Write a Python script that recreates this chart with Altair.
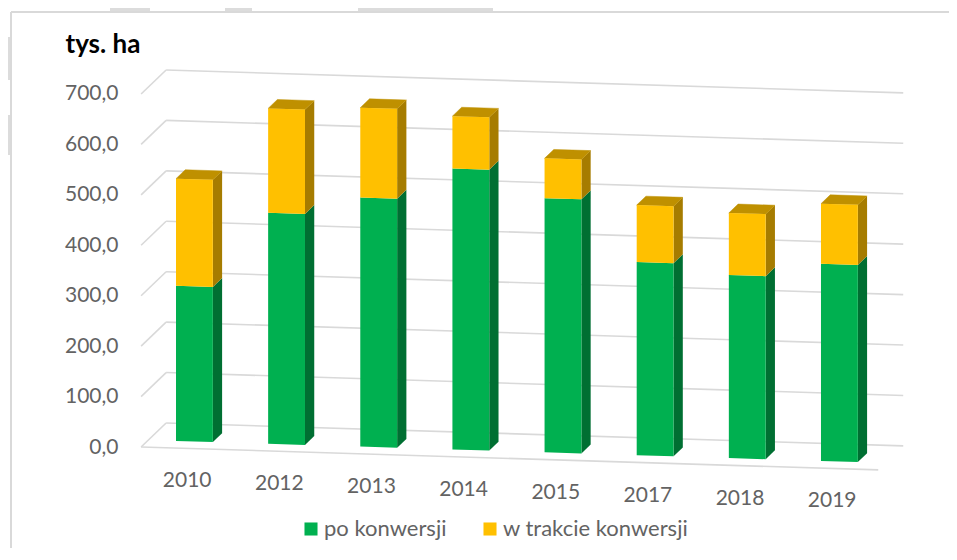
import altair as alt
import pandas as pd

years = ["2010", "2012", "2013", "2014", "2015", "2017", "2018", "2019"]
po_konwersji = [307.5, 458, 494, 557, 504, 383, 363, 391]
w_trakcie = [212.5, 207, 178, 104, 79, 113, 123, 119]
ticks = [0, 100, 200, 300, 400, 500, 600, 700]
SERIES = ["po konwersji", "w trakcie konwersji"]
COLORS = ["#00B050", "#FFC000"]
SIDE = {"po konwersji": "#006F32", "w trakcie konwersji": "#A67C00"}
TOP = "#BF9000"
GREY = "#D9D9D9"
TEXT = "#636363"
FONT = "Lato"

W, H = 941, 540
PX, PV = 92.14, 0.5043          # pixels per category / per value unit
SKEW = 2.86 / PV                # floor fall per category, in value units
DX, DY = 25 / PX, 24 / PV       # full floor depth, in scale units
C0, C1 = -0.30, 7.70            # floor extent in category units
BAR_W, D0, D1 = 0.40, 0.29, 0.66
xdom = [-160.75 / PX, (W - 160.75) / PX]
ydom = [(439 - H) / PV, 439 / PV]
xs = alt.Scale(domain=xdom, range=[0, W], nice=False, zero=False)
ys = alt.Scale(domain=ydom, range=[H, 0], nice=False, zero=False)

AXIS = alt.Axis(
    values=ticks,
    offset=-110,
    domain=False,
    ticks=False,
    grid=False,
    labelPadding=0,
    labelFont=FONT,
    labelFontSize=21,
    labelColor=TEXT,
    labelExpr="replace(format(datum.value, '.1f'), '.', ',')",
    title="tys. ha",
    titleAngle=0,
    titleX=-53,
    titleY=49,
    titleAlign="left",
    titleFont=FONT,
    titleFontSize=26,
    titleFontWeight="bold",
    titleColor="#000000",
)


def proj(c, v, d):
    return c + d * DX, v - (c - C0) * SKEW + d * DY


def X(f="x"):
    return alt.X(f"{f}:Q", scale=xs, axis=None)


def Y(f="y"):
    return alt.Y(f"{f}:Q", scale=ys, axis=AXIS)


# ---------- grid ----------
grid = []
for t in ticks:
    for a, b in [((C0, t, 0), (C0, t, 1)), ((C0, t, 1), (C1, t, 1))]:
        x, y = proj(*a)
        x2, y2 = proj(*b)
        grid.append(dict(x=x, y=y, x2=x2, y2=y2))
x, y = proj(C0, 0, 0)
x2, y2 = proj(C1, 0, 0)
grid.append(dict(x=x, y=y, x2=x2, y2=y2))
grid_layer = alt.Chart(pd.DataFrame(grid)).mark_rule(color=GREY, strokeWidth=1.6).encode(
    x=X(), y=Y(), x2="x2:Q", y2="y2:Q"
)

# ---------- bars ----------
front, side, top = [], [], []
for i, yr in enumerate(years):
    segs = [
        (SERIES[0], 0, po_konwersji[i]),
        (SERIES[1], po_konwersji[i], po_konwersji[i] + w_trakcie[i]),
    ]
    for s, lo, hi in segs:
        for c in (i, i + BAR_W):
            x, y = proj(c, lo, D0)
            _, y2 = proj(c, hi, D0)
            front.append(dict(id=f"{yr}{s}", s=s, x=x, y=y, y2=y2))
        for d in (D0, D1):
            x, y = proj(i + BAR_W, lo, d)
            _, y2 = proj(i + BAR_W, hi, d)
            side.append(dict(id=f"{yr}{s}", s=s, x=x, y=y, y2=y2))
    for k, (c, d) in enumerate(
        [(i, D0), (i + BAR_W, D0), (i + BAR_W, D1), (i, D1), (i, D0)]
    ):
        x, y = proj(c, po_konwersji[i] + w_trakcie[i], d)
        top.append(dict(id=yr, k=k, x=x, y=y))

side_layer = alt.Chart(pd.DataFrame(side)).mark_area(interpolate="linear").encode(
    x=X(),
    y=Y(),
    y2="y2:Q",
    detail="id:N",
    color=alt.Color("s:N", scale=alt.Scale(domain=SERIES, range=[SIDE[s] for s in SERIES]), legend=None),
)

top_layer = alt.Chart(pd.DataFrame(top)).mark_line(
    fill=TOP, stroke=TOP, strokeWidth=0.5, interpolate="linear"
).encode(x=X(), y=Y(), detail="id:N", order="k:Q")

front_layer = alt.Chart(pd.DataFrame(front)).mark_area(interpolate="linear").encode(
    x=X(),
    y=Y(),
    y2="y2:Q",
    detail="id:N",
    color=alt.Color(
        "s:N",
        scale=alt.Scale(domain=SERIES, range=COLORS),
        legend=alt.Legend(
            orient="none",
            legendX=292,
            legendY=510,
            direction="horizontal",
            title=None,
            symbolType="square",
            symbolSize=170,
            symbolStrokeWidth=0,
            labelFont=FONT,
            labelFontSize=22,
            labelColor=TEXT,
            labelOffset=2,
            labelLimit=300,
            columnPadding=32,
        ),
    ),
)

# ---------- category labels ----------
lab = []
for i, yr in enumerate(years):
    x, y = proj(i + 0.2, 0, 0)
    lab.append(dict(x=x, y=y, t=yr))
label_layer = alt.Chart(pd.DataFrame(lab)).mark_text(
    dy=33, font=FONT, fontSize=21, color=TEXT
).encode(x=X(), y=Y(), text="t:N")

# ---------- frame and the edges of the background watermark ----------
one = pd.DataFrame({"a": [0]})
frame_top = alt.Chart(one).mark_rule(color=GREY, strokeWidth=2).encode(
    x=alt.value(3), x2=alt.value(W), y=alt.value(4)
)
frame_left = alt.Chart(one).mark_rule(color=GREY, strokeWidth=2).encode(
    x=alt.value(3), y=alt.value(4), y2=alt.value(H)
)


def sliver(x0, x1, y0, y1):
    return alt.Chart(one).mark_rect(color="#DCDCDC").encode(
        x=alt.value(x0), x2=alt.value(x1), y=alt.value(y0), y2=alt.value(y1)
    )


slivers = [
    sliver(102, 142, 0, 3),
    sliver(217, 244, 0, 3),
    sliver(350, 485, 0, 3),
    sliver(0, 2, 29, 72),
    sliver(0, 2, 107, 147),
]

chart = (
    alt.layer(
        *slivers, grid_layer, side_layer, top_layer, front_layer, label_layer, frame_top, frame_left
    )
    .resolve_scale(color="independent")
    .properties(width=W, height=H, autosize="none", padding=0, background="white")
    .configure_view(stroke=None)
)

chart.save("out.html", embed_options={"renderer": "svg", "actions": False})
